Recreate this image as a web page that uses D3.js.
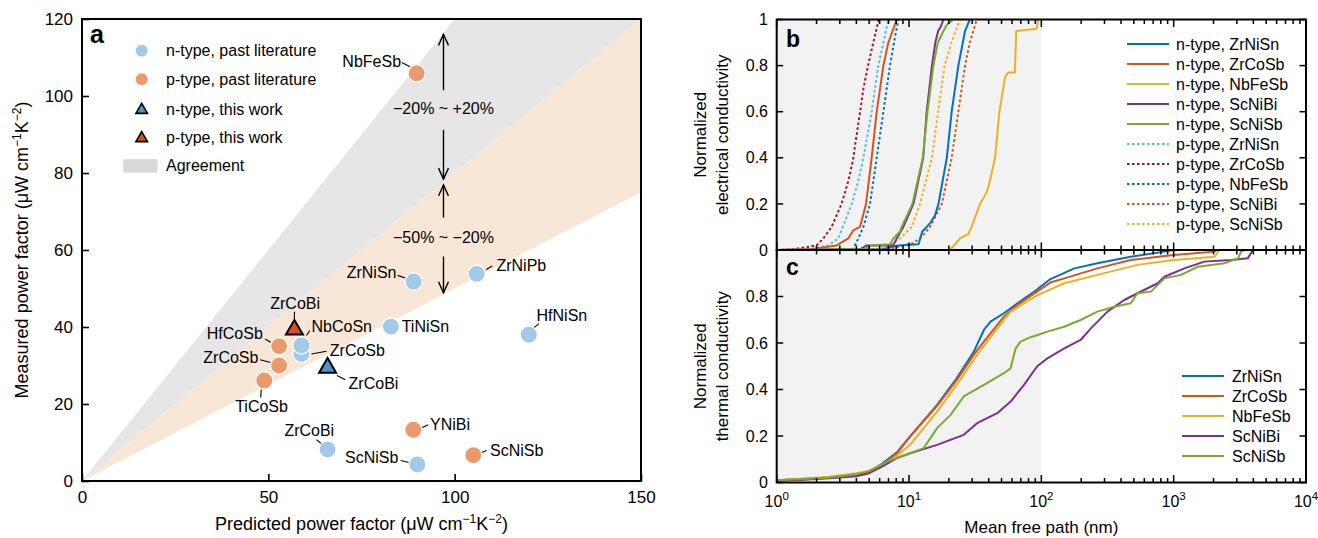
<!DOCTYPE html>
<html><head><meta charset="utf-8">
<script src="https://cdn.jsdelivr.net/npm/d3@7"></script>
<style>
body{margin:0;background:#fff}
svg{display:block}
text{font-family:"Liberation Sans",Arial,Helvetica,sans-serif;fill:#000}
</style>
</head><body>
<svg id="chart" width="1318" height="538"></svg>
<script>
// ================= DATA =================
// Panel a: predicted vs measured power factor (µW cm^-1 K^-2)
const compounds   = ["NbFeSb","ZrNiSn","ZrNiPb","TiNiSn","HfNiSn","ZrCoSb","NbCoSn","HfCoSb","ZrCoSb","TiCoSb","ZrCoBi","ScNiSb","YNiBi","ScNiSb","ZrCoBi","ZrCoBi"];
const carrierType = ["p","n","n","n","n","n","n","p","p","p","n","n","p","p","p","n"];
const dataSource  = ["lit","lit","lit","lit","lit","lit","lit","lit","lit","lit","lit","lit","lit","lit","this","this"];
const predictedPF = [89.8, 89.0, 105.9, 82.9, 119.9, 58.9, 58.9, 52.9, 52.9, 48.9, 65.9, 90.0, 88.9, 105.0, 57.0, 65.9];
const measuredPF  = [105.9, 51.8, 53.8, 40.1, 38.0, 33.0, 35.2, 35.0, 30.0, 26.1, 8.2, 4.3, 13.3, 6.7, 39.3, 29.4];
const agreementBands = [ {lo:0.8, hi:1.2, name:"-20% ~ +20%"}, {lo:0.5, hi:0.8, name:"-50% ~ -20%"} ];
const xTicksA = [0, 50, 100, 150];
const yTicksA = [0, 20, 40, 60, 80, 100, 120];
const legendA = ["n-type, past literature","p-type, past literature","n-type, this work","p-type, this work","Agreement"];

// Panel b: normalized electrical conductivity vs mean free path (nm)
const elec_n_ZrNiSn = [[1,0],[6.3,0.003],[8.3,0.02],[11.8,0.025],[12.6,0.08],[13.6,0.1],[14.6,0.12],[15.7,0.15],[16.7,0.2],[19.3,0.4],[21,0.6],[23.6,0.8],[26.5,0.95],[28.8,1]];
const elec_n_ZrCoSb = [[1,0],[1.79,0.003],[2.84,0.02],[3.47,0.05],[3.79,0.085],[4.26,0.1],[4.73,0.2],[5.22,0.4],[5.7,0.6],[6.4,0.8],[6.98,0.9],[8.07,1]];
const elec_n_NbFeSb = [[1,0],[20.4,0],[24.3,0.05],[28.1,0.07],[29.7,0.1],[34.4,0.2],[38.6,0.25],[40.9,0.3],[44.7,0.4],[48.2,0.6],[53.2,0.75],[56.2,0.77],[63.1,0.77],[64.6,0.95],[92.3,0.96],[94.8,1]];
const elec_n_ScNiBi = [[1,0],[4.26,0.003],[4.79,0.02],[7.6,0.02],[8.07,0.05],[9.06,0.1],[10.8,0.2],[12.8,0.4],[13.6,0.6],[14.9,0.8],[15.8,0.9],[16.6,0.95],[17.4,0.97],[18.2,1]];
const elec_n_ScNiSb = [[1,0],[4.5,0.003],[5.2,0.02],[7.2,0.025],[7.6,0.05],[8.55,0.08],[8.8,0.1],[10.6,0.2],[12.7,0.4],[13.8,0.6],[15.3,0.8],[16.5,0.9],[18.2,0.95],[19.5,0.98],[21.6,1]];
const elec_p_ZrNiSn = [[1,0],[1.8,0.003],[2.45,0.02],[2.92,0.05],[3.16,0.1],[3.69,0.2],[4.14,0.3],[4.52,0.4],[5.22,0.6],[5.86,0.8],[6.4,0.9],[6.98,1]];
const elec_p_ZrCoSb = [[1,0],[1.33,0.003],[2.0,0.02],[2.25,0.05],[2.6,0.1],[3.09,0.2],[3.48,0.3],[3.8,0.4],[3.9,0.45],[4.27,0.6],[4.52,0.7],[4.9,0.8],[5.37,0.9],[5.9,1]];
const elec_p_NbFeSb = [[1,0],[3.5,0],[3.79,0.005],[4.14,0.05],[4.52,0.1],[5.07,0.2],[5.7,0.4],[6.4,0.6],[7.18,0.8],[7.7,0.9],[8.3,1]];
const elec_p_ScNiBi = [[1,0],[7,0.003],[9.1,0.02],[10.8,0.03],[12.6,0.06],[14.4,0.1],[17.7,0.2],[21,0.4],[23.6,0.6],[26.5,0.8],[28.8,0.9],[32.5,1]];
const elec_p_ScNiSb = [[1,0],[6,0.003],[7.18,0.02],[8.55,0.05],[10.5,0.1],[12.1,0.2],[14.9,0.4],[16.6,0.6],[18.6,0.8],[20.9,0.9],[24.3,1]];
const elecNames = ["n-type, ZrNiSn","n-type, ZrCoSb","n-type, NbFeSb","n-type, ScNiBi","n-type, ScNiSb","p-type, ZrNiSn","p-type, ZrCoSb","p-type, NbFeSb","p-type, ScNiBi","p-type, ScNiSb"];

// Panel c: normalized thermal conductivity vs mean free path (nm)
const therm_ZrNiSn = [[1,0.01],[1.6,0.015],[2.5,0.022],[4,0.035],[5,0.048],[6.1,0.076],[8.1,0.13],[10.2,0.198],[16.3,0.334],[22.9,0.448],[30.9,0.563],[36.8,0.656],[41.3,0.692],[52.1,0.728],[66,0.771],[93,0.83],[100,0.845],[117,0.875],[178,0.921],[265,0.943],[474,0.971],[851,0.993],[1000,1]];
const therm_ZrCoSb = [[1,0.01],[1.6,0.014],[2.5,0.02],[4,0.03],[5,0.045],[6.1,0.07],[8.1,0.125],[10.2,0.198],[16.3,0.33],[22.9,0.44],[30.9,0.55],[36.8,0.606],[52.1,0.713],[66,0.764],[93,0.822],[117,0.86],[149,0.878],[265,0.921],[474,0.957],[1000,0.978],[2040,0.993],[2100,1]];
const therm_NbFeSb = [[1,0.01],[1.6,0.017],[2.5,0.025],[4,0.04],[5,0.05],[6.1,0.07],[8.1,0.115],[10.2,0.162],[16.3,0.305],[22.9,0.42],[32.7,0.549],[46.4,0.663],[58.6,0.735],[73.9,0.771],[93,0.805],[149,0.857],[265,0.893],[533,0.936],[1000,0.957],[2040,0.971],[2215,1]];
const therm_ScNiBi = [[1,0.008],[1.6,0.012],[2.5,0.018],[4,0.027],[5,0.04],[6.1,0.065],[8.1,0.105],[10.2,0.126],[16.3,0.162],[25.9,0.205],[32.7,0.255],[46.4,0.298],[58.6,0.348],[73.9,0.42],[93,0.5],[111,0.534],[149,0.577],[198,0.613],[237,0.663],[316,0.735],[423,0.785],[533,0.814],[757,0.857],[851,0.885],[1205,0.921],[1706,0.95],[2716,0.957],[3630,0.964],[3963,1]];
const therm_ScNiSb = [[1,0.01],[1.6,0.015],[2.5,0.022],[4,0.035],[5,0.05],[6.8,0.09],[10.2,0.126],[12.9,0.148],[16.3,0.234],[20.6,0.291],[25.9,0.37],[36.8,0.42],[52.1,0.47],[58.6,0.491],[63.9,0.577],[69.7,0.606],[83,0.625],[100,0.64],[111,0.649],[149,0.67],[198,0.699],[265,0.735],[355,0.756],[474,0.771],[533,0.814],[673,0.821],[851,0.878],[1137,0.893],[1520,0.928],[2420,0.943],[3055,0.964],[3240,0.993],[3430,1]];
const thermNames = ["ZrNiSn","ZrCoSb","NbFeSb","ScNiBi","ScNiSb"];

const fractionTicks = [0, 0.2, 0.4, 0.6, 0.8, 1];
const mfpShadeLimit = 100;

// ================= STYLE / LAYOUT =================
const C = {blue:"#0072BD", red:"#D95319", yellow:"#EDB120", purple:"#7E2F8E", green:"#77AC30", lblue:"#4DBEEE", dred:"#A2142F"};
const elecSeries = [elec_n_ZrNiSn, elec_n_ZrCoSb, elec_n_NbFeSb, elec_n_ScNiBi, elec_n_ScNiSb, elec_p_ZrNiSn, elec_p_ZrCoSb, elec_p_NbFeSb, elec_p_ScNiBi, elec_p_ScNiSb];
const elecColors = [C.blue, C.red, C.yellow, C.purple, C.green, C.lblue, C.dred, C.blue, C.red, C.yellow];
const thermSeries = [therm_ZrNiSn, therm_ZrCoSb, therm_NbFeSb, therm_ScNiBi, therm_ScNiSb];
const thermColors = [C.blue, C.red, C.yellow, C.purple, C.green];
const circleFill = {n:"#a3c9e8", p:"#ec9a6b"};
const triFill = {n:"#4a95cc", p:"#d5501e"};
const bandFill = ["#e6e6e6", "#f8e6d6"];
// label layout: [anchor, dx, dy, leader x1, y1, x2, y2] (pixels relative to marker)
const labelLayout = [
  ["end",-15.6,-12,-14.7,-10.7,-6.3,-6.2],
  ["end",-17.2,-9,-16,-6.2,-6.3,-2.8],
  ["start",19.8,-8.6,9.2,-4.1,15.6,-7.9],
  ["start",10.7,0,null],
  ["start",7.7,-19.7,5.3,-7,10,-11],
  ["start",28.3,-4,10,0,25,-2.7],
  ["start",10,-19,5,-10,8.3,-15],
  ["end",-16.3,-13.3,-14,-7.3,-7.3,-3.3],
  ["end",-20.7,-8.3,-19,-5.7,-5.7,-2.3],
  ["middle",-2.7,25.7,-3,9,-3.5,17],
  ["middle",-18.3,-19,-11,-9.7,-4.3,-4],
  ["end",-19,-7.3,-16.7,-4,-7.3,-1.7],
  ["start",16.7,-5.7,9,-2.3,15,-5],
  ["start",16.7,-5,7.3,-2.3,13.3,-4.7],
  ["middle",0.7,-26.7,0,-18,0,-8],
  ["start",21,15.3,9.3,7.7,17.7,12]
];

const svg = d3.select("#chart");

function supTitle(sel, parts){ // parts: [text, isSup]
  parts.forEach(p=>{
    if(p[1]){
      sel.append("tspan").attr("dy",-7).attr("font-size","12px").text(p[0]);
    } else {
      const t = sel.append("tspan").text(p[0]);
      if(p[2]) t.attr("dy",7);
    }
  });
}

// ================= PANEL A =================
const xA = d3.scaleLinear().domain([0,150]).range([82,641]);
const yA = d3.scaleLinear().domain([0,120]).range([481,19]);
const gA = svg.append("g");
gA.append("clipPath").attr("id","clipA").append("rect")
  .attr("x",xA(0)).attr("y",yA(120)).attr("width",xA(150)-xA(0)).attr("height",yA(0)-yA(120));
const bandG = gA.append("g").attr("clip-path","url(#clipA)");
agreementBands.forEach((b,i)=>{
  const xm = 200;
  const pts = [[0,0],[xm,b.hi*xm],[xm,b.lo*xm]].map(p=>[xA(p[0]),yA(p[1])]);
  bandG.append("polygon").attr("points",pts.map(p=>p.join(",")).join(" ")).attr("fill",bandFill[i]);
});

// arrows
const arrowX = 97;
function arrow(y1,y2){
  const x = xA(arrowX), a = yA(y1), b = yA(y2), dir = b < a ? 1 : -1;
  gA.append("line").attr("x1",x).attr("x2",x).attr("y1",a).attr("y2",b).attr("stroke","#000").attr("stroke-width",1.4);
  gA.append("path").attr("d",`M${x-5},${b+dir*11}L${x},${b}L${x+5},${b+dir*11}`).attr("fill","none").attr("stroke","#000").attr("stroke-width",1.4);
}
arrow(101.5,116); arrow(91.2,78.4); arrow(68.4,76.9); arrow(58.3,48.9);
gA.append("text").attr("x",xA(arrowX)).attr("y",yA(96.8)).attr("dy","0.35em").attr("text-anchor","middle").attr("font-size","16px").text("\u221220% ~ +20%");
gA.append("text").attr("x",xA(arrowX)).attr("y",yA(63.4)).attr("dy","0.35em").attr("text-anchor","middle").attr("font-size","16px").text("\u221250% ~ \u221220%");

// leaders
compounds.forEach((c,i)=>{
  const L = labelLayout[i];
  if(L[3]===null) return;
  const px = xA(predictedPF[i]), py = yA(measuredPF[i]);
  gA.append("line").attr("x1",px+L[3]).attr("y1",py+L[4]).attr("x2",px+L[5]).attr("y2",py+L[6]).attr("stroke","#000").attr("stroke-width",1.1);
});
// markers
compounds.forEach((c,i)=>{
  const px = xA(predictedPF[i]), py = yA(measuredPF[i]);
  if(dataSource[i]==="lit"){
    gA.append("circle").attr("cx",px).attr("cy",py).attr("r",8.6).attr("fill",circleFill[carrierType[i]]).attr("stroke","#fff").attr("stroke-width",1.3);
  } else {
    gA.append("path").attr("d",d3.symbol(d3.symbolTriangle,125)()).attr("transform",`translate(${px},${py})`)
      .attr("fill",triFill[carrierType[i]]).attr("stroke","#000").attr("stroke-width",2).attr("stroke-linejoin","miter");
  }
});
// labels
compounds.forEach((c,i)=>{
  const L = labelLayout[i];
  const px = xA(predictedPF[i]), py = yA(measuredPF[i]);
  gA.append("text").attr("x",px+L[1]).attr("y",py+L[2]).attr("dy","0.35em").attr("text-anchor",L[0]).attr("font-size","16px").text(c);
});

// legend a
const legY = [50.7, 79.3, 109, 137.3, 165.7];
legendA.forEach((t,i)=>{
  const lx = 141.7, ly = legY[i];
  if(i<2){
    gA.append("circle").attr("cx",lx).attr("cy",ly).attr("r",6).attr("fill",circleFill[i===0?"n":"p"]);
  } else if(i<4){
    gA.append("path").attr("d",d3.symbol(d3.symbolTriangle,58)()).attr("transform",`translate(${lx},${ly+1})`)
      .attr("fill",triFill[i===2?"n":"p"]).attr("stroke","#000").attr("stroke-width",1.6);
  } else {
    gA.append("rect").attr("x",123.3).attr("y",ly-6.5).attr("width",34.4).attr("height",13.4).attr("fill","#d9d9d9");
  }
  gA.append("text").attr("x",166).attr("y",ly).attr("dy","0.35em").attr("font-size","16px").text(t);
});

// frame + axes a
gA.append("rect").attr("x",xA(0)).attr("y",yA(120)).attr("width",xA(150)-xA(0)).attr("height",yA(0)-yA(120))
  .attr("fill","none").attr("stroke","#000").attr("stroke-width",2);
const axXA = gA.append("g").attr("transform",`translate(0,${yA(0)})`)
  .call(d3.axisBottom(xA).tickValues(xTicksA).tickSize(-7).tickPadding(10).tickFormat(d3.format("d")));
const axYA = gA.append("g").attr("transform",`translate(${xA(0)},0)`)
  .call(d3.axisLeft(yA).tickValues(yTicksA).tickSize(-7).tickPadding(9).tickFormat(d3.format("d")));
[axXA,axYA].forEach(a=>{
  a.select(".domain").remove();
  a.selectAll(".tick line").attr("stroke","#000").attr("stroke-width",1.6);
  a.selectAll(".tick text").attr("font-size","17px").attr("font-family",'"Liberation Sans",Arial,sans-serif').attr("fill","#000");
});
const xtA = gA.append("text").attr("x",(xA(0)+xA(150))/2).attr("y",530).attr("text-anchor","middle").attr("font-size","18px");
supTitle(xtA,[["Predicted power factor (\u03bcW cm"],["\u22121",1],["K",0,1],["\u22122",1],[")",0,1]]);
const ytA = gA.append("text").attr("transform",`translate(28,${(yA(0)+yA(120))/2}) rotate(-90)`).attr("text-anchor","middle").attr("font-size","18px");
supTitle(ytA,[["Measured power factor (\u03bcW cm"],["\u22121",1],["K",0,1],["\u22122",1],[")",0,1]]);
gA.append("text").attr("x",90).attr("y",43).attr("font-size","25px").attr("font-weight","bold").text("a");

// ================= PANELS B, C =================
const xL = d3.scaleLog().domain([1,1e4]).range([776.7,1306]);
const yB = d3.scaleLinear().domain([0,1]).range([250,19.5]);
const yC = d3.scaleLinear().domain([0,1]).range([482.5,250]);
const gB = svg.append("g");
gB.append("rect").attr("x",xL(1)).attr("y",yB(1)).attr("width",xL(mfpShadeLimit)-xL(1)).attr("height",yC(0)-yB(1)).attr("fill","#f2f2f2");

const lineB = d3.line().x(d=>xL(d[0])).y(d=>yB(d[1]));
const lineC = d3.line().x(d=>xL(d[0])).y(d=>yC(d[1]));
// draw dotted (p-type) first, then solid
const orderB = [5,6,7,8,9,0,1,2,3,4];
orderB.forEach(i=>{
  gB.append("path").attr("d",lineB(elecSeries[i])).attr("fill","none").attr("stroke",elecColors[i])
    .attr("stroke-width",2).attr("stroke-dasharray", i>=5 ? "2.6,2.4" : null).attr("stroke-linejoin","round");
});
thermSeries.forEach((s,i)=>{
  gB.append("path").attr("d",lineC(s)).attr("fill","none").attr("stroke",thermColors[i]).attr("stroke-width",2).attr("stroke-linejoin","round");
});

// frames
[[yB(1),yB(0)],[yC(1),yC(0)]].forEach(r=>{
  gB.append("rect").attr("x",xL(1)).attr("y",r[0]).attr("width",xL(1e4)-xL(1)).attr("height",r[1]-r[0])
    .attr("fill","none").attr("stroke","#000").attr("stroke-width",2);
});
// log ticks on horizontal borders
const logTicks = xL.ticks();
function hTicks(y, dir){
  logTicks.forEach(v=>{
    const major = Math.abs(Math.log10(v)-Math.round(Math.log10(v)))<1e-9;
    const len = major ? 7.5 : 4.5;
    gB.append("line").attr("x1",xL(v)).attr("x2",xL(v)).attr("y1",y).attr("y2",y+dir*len).attr("stroke","#000").attr("stroke-width",1.5);
  });
}
hTicks(yB(1),1); hTicks(yB(0),-1); hTicks(yC(1),1); hTicks(yC(0),-1);
// fraction ticks on vertical borders
[yB,yC].forEach(ys=>{
  fractionTicks.forEach(v=>{
    gB.append("line").attr("x1",xL(1)).attr("x2",xL(1)+6.5).attr("y1",ys(v)).attr("y2",ys(v)).attr("stroke","#000").attr("stroke-width",1.5);
    gB.append("line").attr("x1",xL(1e4)).attr("x2",xL(1e4)-6.5).attr("y1",ys(v)).attr("y2",ys(v)).attr("stroke","#000").attr("stroke-width",1.5);
  });
});
// tick labels
const fmtF = v => v===0 ? "0" : (v===1 ? "1" : d3.format(".1f")(v));
fractionTicks.forEach(v=>{
  gB.append("text").attr("x",768).attr("y",yB(v)).attr("dy","0.35em").attr("text-anchor","end").attr("font-size","16px").text(fmtF(v));
  if(v<1) gB.append("text").attr("x",768).attr("y",yC(v)).attr("dy","0.35em").attr("text-anchor","end").attr("font-size","16px").text(fmtF(v));
});
[1,10,100,1000,10000].forEach(v=>{
  const t = gB.append("text").attr("x",xL(v)).attr("y",507).attr("text-anchor","middle").attr("font-size","16px");
  t.append("tspan").text("10");
  t.append("tspan").attr("dy",-7).attr("font-size","11.5px").text(Math.round(Math.log10(v)));
});
gB.append("text").attr("x",(xL(1)+xL(1e4))/2).attr("y",533).attr("text-anchor","middle").attr("font-size","17px").text("Mean free path (nm)");
function yTitle2(l1,l2,cy){
  gB.append("text").attr("transform",`translate(706,${cy}) rotate(-90)`).attr("text-anchor","middle").attr("font-size","17px").text(l1);
  gB.append("text").attr("transform",`translate(728,${cy}) rotate(-90)`).attr("text-anchor","middle").attr("font-size","17px").text(l2);
}
yTitle2("Normalized","electrical conductivity",(yB(0)+yB(1))/2);
yTitle2("Normalized","thermal conductivity",(yC(0)+yC(1))/2);
gB.append("text").attr("x",786).attr("y",47).attr("font-size","23px").attr("font-weight","bold").text("b");
gB.append("text").attr("x",786).attr("y",275).attr("font-size","23px").attr("font-weight","bold").text("c");

// legends b, c
elecNames.forEach((n,i)=>{
  const y = 44 + 20*i;
  gB.append("line").attr("x1",1127).attr("x2",1169).attr("y1",y).attr("y2",y).attr("stroke",elecColors[i]).attr("stroke-width",2)
    .attr("stroke-dasharray", i>=5 ? "2.6,2.4" : null);
  gB.append("text").attr("x",1176).attr("y",y).attr("dy","0.35em").attr("font-size","16px").text(n);
});
thermNames.forEach((n,i)=>{
  const y = 376 + 20*i;
  gB.append("line").attr("x1",1182).attr("x2",1224).attr("y1",y).attr("y2",y).attr("stroke",thermColors[i]).attr("stroke-width",2);
  gB.append("text").attr("x",1232).attr("y",y).attr("dy","0.35em").attr("font-size","16px").text(n);
});
</script>
</body></html>
